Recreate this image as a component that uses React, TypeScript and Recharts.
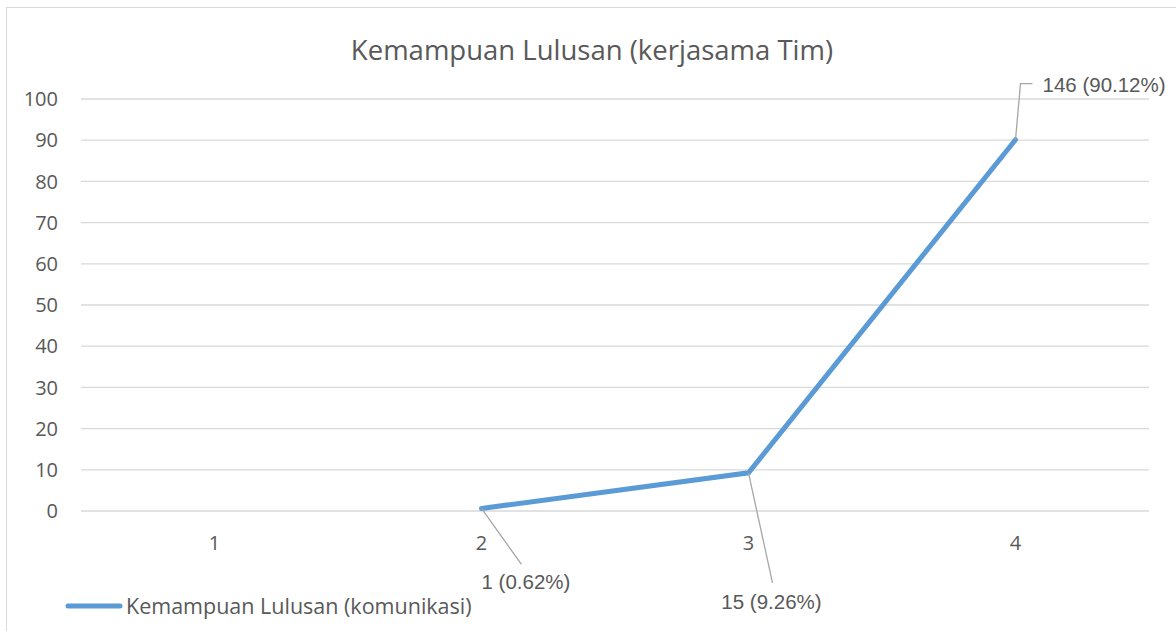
import { LineChart, Line, XAxis, YAxis, CartesianGrid } from "recharts"

const categories = ["1", "2", "3", "4"]
const percentValues: (number | null)[] = [null, 0.62, 9.26, 90.12]
const counts: (number | null)[] = [null, 1, 15, 146]
const yTicks = [0, 10, 20, 30, 40, 50, 60, 70, 80, 90, 100]

const TITLE = "Kemampuan Lulusan (kerjasama Tim)"
const SERIES_NAME = "Kemampuan Lulusan (komunikasi)"

const LINE_COLOR = "#5B9BD5"
const TEXT_COLOR = "#595959"
const GRID_COLOR = "#d9d9d9"
const LEADER_COLOR = "#a6a6a6"
const FONT = "'Open Sans', sans-serif"

// leader line + label placement for each point (dragged by hand in the original)
const labelPlacement: Record<number, { path: [number, number][]; tx: number; ty: number; anchor: "start" | "middle" }> = {
  1: { path: [[0, 0], [40, 56]], tx: 0, ty: 73, anchor: "start" },
  2: { path: [[0, 0], [24, 110]], tx: 23, ty: 129, anchor: "middle" },
  3: { path: [[0, 0], [5, -56], [17, -56]], tx: 27, ty: -55, anchor: "start" },
}

const data = categories.map((c, i) => ({
  kategori: c,
  persen: percentValues[i],
  jumlah: counts[i],
}))

const PointLabel = (props: any) => {
  const { x, y, index } = props
  const entry = data[index]
  if (!entry || entry.persen == null || x == null || y == null) return null
  const place = labelPlacement[index]
  if (!place) return null
  const pts = place.path.map(([dx, dy]) => `${x + dx},${y + dy}`).join(" ")
  return (
    <g>
      <polyline points={pts} fill="none" stroke={LEADER_COLOR} strokeWidth={1.3} />
      <text
        x={x + place.tx}
        y={y + place.ty}
        textAnchor={place.anchor}
        dominantBaseline="central"
        fill={TEXT_COLOR}
        style={{ fontFamily: "'Liberation Sans', Arial, sans-serif", fontSize: 20.5 }}
      >
        {`${entry.jumlah} (${entry.persen.toFixed(2)}%)`}
      </text>
    </g>
  )
}

export default function App() {
  return (
    <div
      style={{
        position: "absolute",
        left: 0,
        top: 0,
        width: 1176,
        height: 631,
        overflow: "hidden",
        background: "#fff",
      }}
    >
      <div
        style={{
          position: "absolute",
          left: 6,
          top: 7,
          width: 1300,
          height: 800,
          border: `1.5px solid ${GRID_COLOR}`,
        }}
      />
      <div
        style={{
          position: "absolute",
          left: 0,
          width: 1176,
          top: 31,
          textAlign: "center",
          paddingLeft: 4,
          color: TEXT_COLOR,
          fontFamily: FONT,
          fontSize: 27.5,
          lineHeight: "38px",
        }}
      >
        {TITLE}
      </div>
      <div style={{ position: "absolute", left: 0, top: 0 }}>
        <LineChart
          width={1176}
          height={631}
          data={data}
          margin={{ top: 99, right: 27, bottom: 80, left: 21 }}
        >
          <CartesianGrid vertical={false} stroke={GRID_COLOR} strokeWidth={1.3} />
          <XAxis
            dataKey="kategori"
            axisLine={false}
            tickLine={false}
            tickSize={0}
            tickMargin={25}
            height={40}
            padding={{ left: 133.5, right: 133.5 }}
            tick={{ fill: TEXT_COLOR, fontSize: 20, fontFamily: FONT }}
          />
          <YAxis
            width={60}
            domain={[0, 100]}
            ticks={yTicks}
            interval={0}
            axisLine={false}
            tickLine={false}
            tickSize={0}
            tickMargin={23}
            tick={{ fill: TEXT_COLOR, fontSize: 20, fontFamily: FONT }}
          />
          <Line
            type="linear"
            dataKey="persen"
            name={SERIES_NAME}
            stroke={LINE_COLOR}
            strokeWidth={5}
            strokeLinecap="round"
            dot={false}
            activeDot={false}
            connectNulls={false}
            isAnimationActive={false}
            label={<PointLabel />}
          />
        </LineChart>
      </div>
      <div
        style={{
          position: "absolute",
          left: 65,
          top: 592,
          display: "flex",
          alignItems: "center",
          height: 28,
        }}
      >
        <svg width={58} height={10}>
          <line x1={3} y1={5} x2={55} y2={5} stroke={LINE_COLOR} strokeWidth={5} strokeLinecap="round" />
        </svg>
        <span style={{ color: TEXT_COLOR, fontFamily: FONT, fontSize: 21.5, marginLeft: 3, lineHeight: "28px" }}>
          {SERIES_NAME}
        </span>
      </div>
    </div>
  )
}
